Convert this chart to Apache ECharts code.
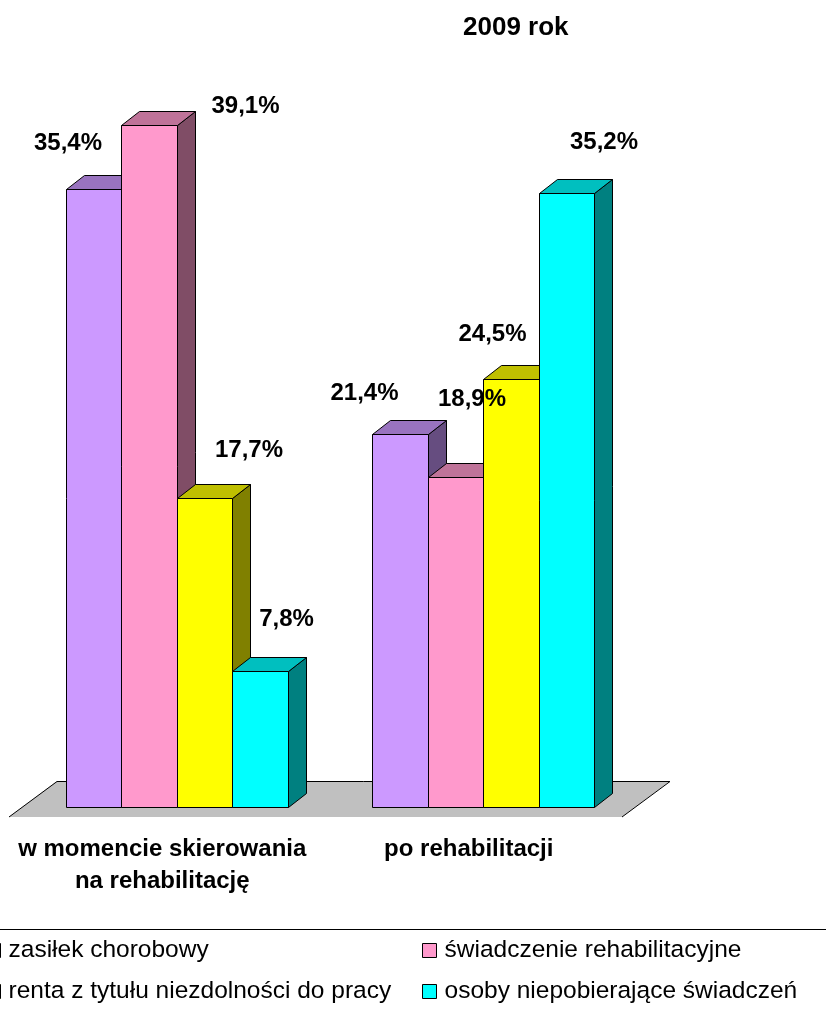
<!DOCTYPE html>
<html>
<head>
<meta charset="utf-8">
<style>html,body{margin:0;padding:0;background:#fff}#c{width:826px;height:1009px}</style>
<script src="https://cdn.jsdelivr.net/npm/echarts@6/dist/echarts.min.js"></script>
</head>
<body>
<div id="c"></div>
<script>
const categories = ['w momencie skierowania\nna rehabilitację', 'po rehabilitacji'];
const seriesNames = ['zasiłek chorobowy', 'świadczenie rehabilitacyjne', 'renta z tytułu niezdolności do pracy', 'osoby niepobierające świadczeń'];
const zasilek = [35.4, 21.4];
const swiadczenie = [39.1, 18.9];
const renta = [17.7, 24.5];
const osoby = [7.8, 35.2];
const seriesValues = [zasilek, swiadczenie, renta, osoby];
const colors = [[204,153,255],[255,153,204],[255,255,0],[0,255,255]];
const labelNudge = [
  [[-26,-46],[96,-19],[44,-48],[26,-52]],
  [[-36,-41],[16,-78],[-19,-45],[37,-51]]
];
const FONT = '"Liberation Sans", Arial, sans-serif';
const DX = 18, DY = -14, BARW = 0.1814, SHIFT = 14.5;
const shade = (c, f) => 'rgb(' + c.map(v => Math.round(v * f)).join(',') + ')';
const hex = c => shade(c, 1);
const px = v => Math.round(v) + 0.5;

function barRender(si) {
  return function (params, api) {
    const cat = api.value(0), val = api.value(1);
    const band = api.size([1, 0])[0];
    const w = band * BARW;
    const center = api.coord([cat, 0])[0] + SHIFT;
    const x0 = px(center - 2 * w + si * w), x1 = px(center - 2 * w + (si + 1) * w);
    const yb = px(api.coord([cat, 0])[1]), yt = px(api.coord([cat, val])[1]);
    const c = colors[si];
    const st = (f) => ({ fill: shade(c, f), stroke: '#000', lineWidth: 1 });
    const nudge = labelNudge[cat][si];
    const cx = (x0 + x1) / 2;
    return {
      type: 'group',
      children: [
        { type: 'polygon', shape: { points: [[x1, yb], [x1 + DX, yb + DY], [x1 + DX, yt + DY], [x1, yt]] }, style: st(0.5) },
        { type: 'polygon', shape: { points: [[x0, yt], [x0 + DX, yt + DY], [x1 + DX, yt + DY], [x1, yt]] }, style: st(0.75) },
        { type: 'rect', shape: { x: x0, y: yt, width: x1 - x0, height: yb - yt }, style: st(1) },
        { type: 'text', z2: 50, x: cx + nudge[0], y: yt + nudge[1],
          style: { text: val.toFixed(1).replace('.', ',') + '%', fill: '#000', font: 'bold 24px ' + FONT, textAlign: 'center', textVerticalAlign: 'middle' } }
      ]
    };
  };
}

function floorRender(params, api) {
  const cs = params.coordSys;
  const yb = api.coord([0, 0])[1];
  const yf = yb + 10, yk = yb - 26;
  const l = cs.x, r = cs.x + cs.width, d = 48;
  return {
    type: 'group',
    children: [
      { type: 'polygon', shape: { points: [[l, yf], [l + d, yk], [r + d, yk], [r, yf]] }, style: { fill: '#C0C0C0' } },
      { type: 'polyline', shape: { points: [[l, yf], [l + d, yk + 0.5], [r + d, yk + 0.5], [r, yf]] }, style: { fill: 'none', stroke: '#000', lineWidth: 1 } }
    ]
  };
}

const chart = echarts.init(document.getElementById('c'), null, { renderer: 'canvas' });
chart.setOption({
  animation: false,
  backgroundColor: '#fff',
  title: { text: '2009 rok', left: 458, top: 10, padding: 5, textStyle: { fontFamily: FONT, fontWeight: 'bold', fontSize: 26, color: '#000' } },
  grid: { left: 9, width: 613, top: 109, height: 698 },
  xAxis: { type: 'category', data: categories, axisLine: { show: false }, axisTick: { show: false },
    axisLabel: { interval: 0, margin: 26, lineHeight: 32, color: '#000', fontFamily: FONT, fontWeight: 'bold', fontSize: 24 } },
  yAxis: { type: 'value', min: 0, max: 40, show: false },
  legend: [
    { orient: 'vertical', left: -14, top: 938, padding: 0, itemWidth: 14, itemHeight: 14, itemGap: 16, icon: 'rect', selectedMode: false,
      data: [seriesNames[0], seriesNames[2]], itemStyle: { borderColor: '#000', borderWidth: 1 },
      textStyle: { fontFamily: FONT, fontSize: 24.5, color: '#000', padding: [0, 0, 0, 3] } },
    { orient: 'vertical', left: 422, top: 938, padding: 0, itemWidth: 14, itemHeight: 14, itemGap: 16, icon: 'rect', selectedMode: false,
      data: [seriesNames[1], seriesNames[3]], itemStyle: { borderColor: '#000', borderWidth: 1 },
      textStyle: { fontFamily: FONT, fontSize: 24.5, color: '#000', padding: [0, 0, 0, 3] } }
  ],
  graphic: [{ type: 'line', shape: { x1: 0, y1: 929.5, x2: 826, y2: 929.5 }, style: { stroke: '#000', lineWidth: 1 } }],
  series: [
    { type: 'custom', name: 'floor', renderItem: floorRender, data: [[0, 0]], z: 1, clip: false, silent: true }
  ].concat(seriesValues.map((vals, si) => ({
    type: 'custom', name: seriesNames[si], z: 2, clip: false,
    itemStyle: { color: hex(colors[si]) },
    encode: { x: 0, y: 1 },
    renderItem: barRender(si),
    data: vals.map((v, i) => [i, v])
  })))
});
</script>
</body>
</html>
